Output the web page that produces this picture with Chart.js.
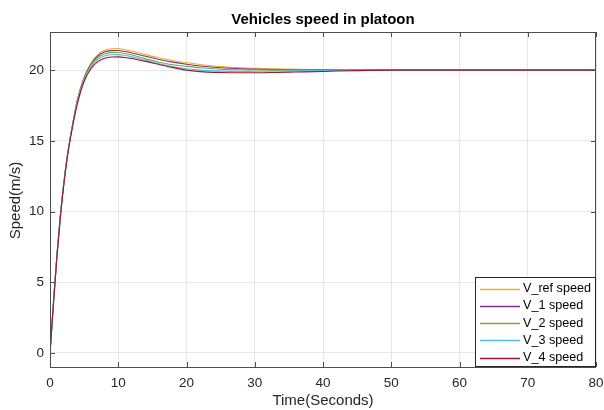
<!DOCTYPE html>
<html>
<head>
<meta charset="utf-8">
<script src="https://cdn.jsdelivr.net/npm/chart.js@4.4.1/dist/chart.umd.min.js"></script>
<style>
  html, body { margin: 0; padding: 0; background: #fff; }
  #wrap { width: 604px; height: 410px; }
</style>
</head>
<body>
<div id="wrap"><canvas id="speedChart" width="604" height="410"></canvas></div>
<script>
// 시간축 (초)
const times = [0, 0.5, 1, 1.5, 2, 2.5, 3, 4, 5, 6, 7, 8, 9, 10, 11, 12, 14, 16, 18, 20, 22, 25, 28, 30, 33, 36, 40, 45, 50, 60, 80];

// 각 차량 속도 (m/s)
const vRef = [0, 3.5, 6.8, 9.6, 11.9, 13.8, 15.3, 17.9, 19.5, 20.5, 21.1, 21.4, 21.52, 21.53, 21.45, 21.35, 21.1, 20.88, 20.68, 20.52, 20.4, 20.25, 20.16, 20.13, 20.09, 20.06, 20.04, 20.02, 20, 20, 20];
const v1 = [0, 3.5, 6.8, 9.6, 11.9, 13.8, 15.3, 17.85, 19.45, 20.42, 21.0, 21.28, 21.38, 21.39, 21.32, 21.22, 20.98, 20.76, 20.57, 20.42, 20.3, 20.17, 20.1, 20.08, 20.05, 20.03, 20.02, 20.01, 20, 20, 20];
const v2 = [0, 3.5, 6.8, 9.6, 11.9, 13.8, 15.3, 17.8, 19.4, 20.35, 20.88, 21.14, 21.24, 21.25, 21.18, 21.07, 20.8, 20.56, 20.38, 20.27, 20.17, 20.07, 20.03, 20.02, 20.0, 20.0, 20.0, 20, 20, 20, 20];
const v3 = [0, 3.5, 6.8, 9.6, 11.9, 13.8, 15.3, 17.7, 19.3, 20.22, 20.75, 21.0, 21.09, 21.1, 21.04, 20.94, 20.7, 20.45, 20.25, 20.1, 20.0, 19.93, 19.91, 19.92, 19.93, 19.95, 19.97, 19.99, 20, 20, 20];
const v4 = [0, 3.4, 6.7, 9.5, 11.8, 13.7, 15.2, 17.6, 19.2, 20.1, 20.6, 20.85, 20.93, 20.94, 20.9, 20.82, 20.62, 20.4, 20.18, 20.0, 19.9, 19.84, 19.82, 19.82, 19.84, 19.87, 19.91, 19.97, 20, 20, 20];

const seriesNames = ['V_ref speed', 'V_1 speed', 'V_2 speed', 'V_3 speed', 'V_4 speed'];
const seriesValues = [vRef, v1, v2, v3, v4];
const seriesColors = ['#EDB120', '#7E2F8E', '#77AC30', '#4DBEEE', '#A2142F'];

// 눈금
const xTicks = [0, 10, 20, 30, 40, 50, 60, 70, 80];
const yTicks = [0, 5, 10, 15, 20];

const FONT = '"Liberation Sans", Arial, sans-serif';
const TXT = '#262626';

// 데이터셋 구성
const datasets = seriesValues.map((vals, i) => ({
    label: seriesNames[i],
    data: times.map((t, k) => ({ x: t, y: vals[k] })),
    borderColor: seriesColors[i],
    backgroundColor: seriesColors[i],
    borderWidth: 1.1,
    pointRadius: 0,
    cubicInterpolationMode: 'monotone',
    order: seriesValues.length - i // V_4 가 맨 위
}));

// 축 박스, 안쪽 눈금, 제목, 범례 그리기
const matlabAxes = {
    id: 'matlabAxes',
    afterDraw(chart) {
        const ctx = chart.ctx;
        const a = chart.chartArea;
        const xs = chart.scales.x, ys = chart.scales.y;
        ctx.save();
        ctx.strokeStyle = '#4d4d4d';
        ctx.lineWidth = 1;
        // 박스
        ctx.strokeRect(Math.round(a.left) + 0.5, Math.round(a.top) + 0.5,
            Math.round(a.right - a.left) - 1, Math.round(a.bottom - a.top));
        // 안쪽 눈금
        const tl = 5;
        ctx.beginPath();
        xTicks.forEach(v => {
            const px = Math.round(xs.getPixelForValue(v)) + 0.5;
            ctx.moveTo(px, a.bottom); ctx.lineTo(px, a.bottom - tl);
            ctx.moveTo(px, a.top); ctx.lineTo(px, a.top + tl);
        });
        yTicks.forEach(v => {
            const py = Math.round(ys.getPixelForValue(v)) + 0.5;
            ctx.moveTo(a.left, py); ctx.lineTo(a.left + tl, py);
            ctx.moveTo(a.right, py); ctx.lineTo(a.right - tl, py);
        });
        ctx.stroke();

        // 제목
        ctx.fillStyle = '#000';
        ctx.font = 'bold 15px ' + FONT;
        ctx.textAlign = 'center';
        ctx.textBaseline = 'middle';
        ctx.fillText('Vehicles speed in platoon', (a.left + a.right) / 2, 20);

        // 축 제목
        ctx.fillStyle = TXT;
        ctx.font = '15px ' + FONT;
        ctx.fillText('Time(Seconds)', (a.left + a.right) / 2, 401);
        ctx.save();
        ctx.translate(16, (a.top + a.bottom) / 2 + 1);
        ctx.rotate(-Math.PI / 2);
        ctx.fillText('Speed(m/s)', 0, 0);
        ctx.restore();

        // 범례
        const lx = 475, ly = 277, lw = a.right - lx, lh = a.bottom - ly;
        ctx.fillStyle = '#fff';
        ctx.fillRect(lx, ly, lw, lh);
        ctx.strokeStyle = '#262626';
        ctx.strokeRect(lx + 0.5, ly + 0.5, lw - 1, lh - 1);
        ctx.font = '12.6px ' + FONT;
        ctx.textAlign = 'left';
        seriesNames.forEach((name, i) => {
            const ry = 288.5 + i * 17.3;
            ctx.strokeStyle = seriesColors[i];
            ctx.lineWidth = 1.3;
            ctx.beginPath();
            ctx.moveTo(480, Math.round(ry) + 0.5);
            ctx.lineTo(520, Math.round(ry) + 0.5);
            ctx.stroke();
            ctx.fillStyle = '#000';
            ctx.fillText(name, 523, ry);
        });
        ctx.restore();
    }
};

new Chart(document.getElementById('speedChart').getContext('2d'), {
    type: 'line',
    data: { datasets: datasets },
    options: {
        responsive: false,
        animation: false,
        layout: { padding: { top: 32, right: 8, left: 0, bottom: 0 } },
        plugins: {
            legend: { display: false },
            tooltip: { enabled: false },
            title: { display: false }
        },
        scales: {
            x: {
                type: 'linear',
                min: 0,
                max: 80,
                afterBuildTicks: s => { s.ticks = xTicks.map(v => ({ value: v })); },
                afterFit: s => { s.height = 43; s.paddingLeft = 0; s.paddingRight = 0; },
                grid: { color: '#e6e6e6', drawTicks: false },
                border: { display: false },
                ticks: { color: TXT, font: { family: FONT, size: 13.5 }, padding: 8, maxRotation: 0 }
            },
            y: {
                type: 'linear',
                min: -1,
                max: 22.7,
                afterBuildTicks: s => { s.ticks = yTicks.map(v => ({ value: v })); },
                afterFit: s => { s.width = 50; s.paddingTop = 0; s.paddingBottom = 0; },
                grid: { color: '#e6e6e6', drawTicks: false },
                border: { display: false },
                ticks: { color: TXT, font: { family: FONT, size: 13.5 }, padding: 6 }
            }
        }
    },
    plugins: [matlabAxes]
});
</script>
</body>
</html>
